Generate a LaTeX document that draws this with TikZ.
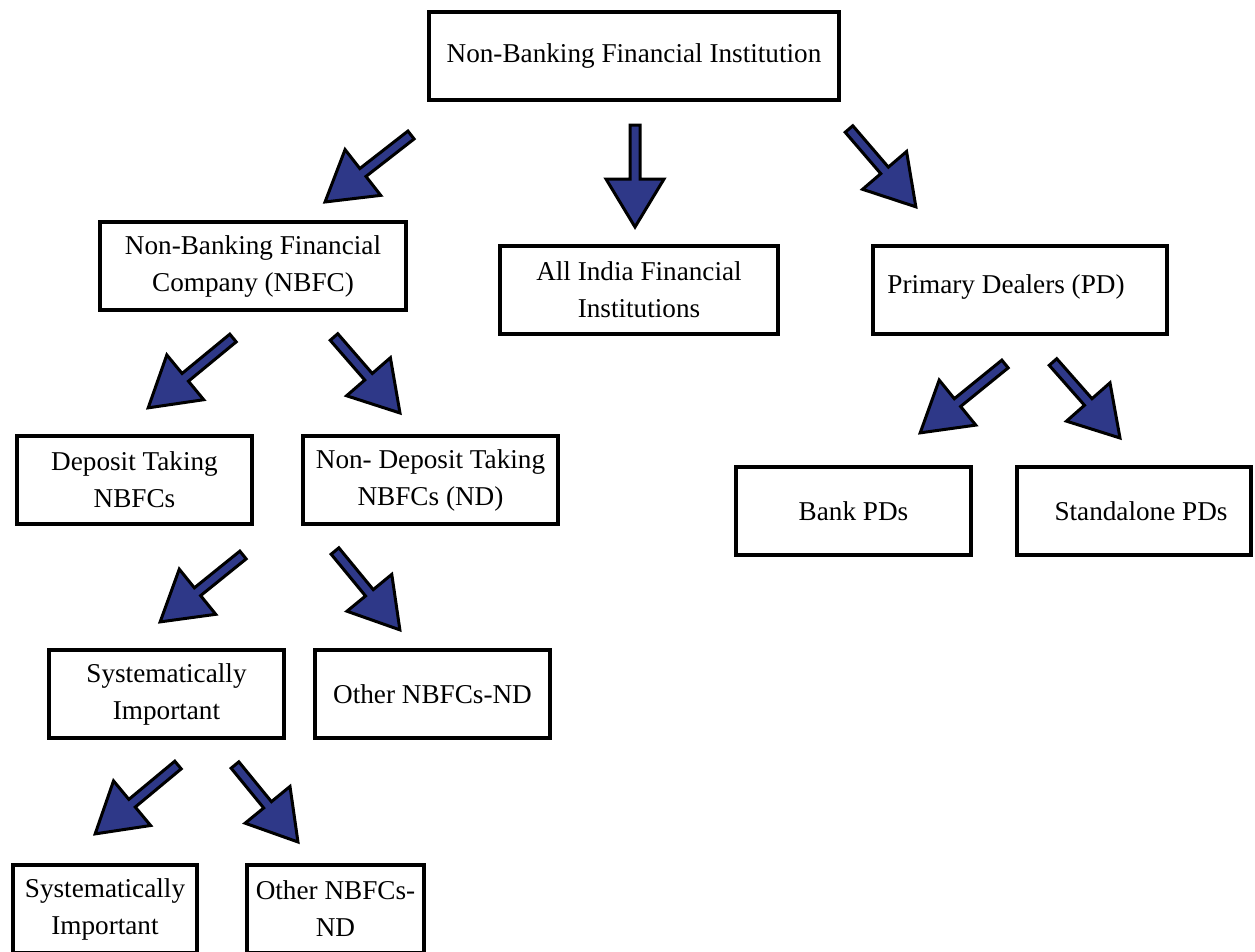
\documentclass[tikz,border=0pt]{standalone}
\usepackage{fontspec}
\setmainfont{Liberation Serif}
\usepackage{tikz}
\usetikzlibrary{calc}
\definecolor{arrowblue}{RGB}{46,56,136}
\tikzset{
	box/.style 2 args={draw, line width=3pt, inner sep=0pt, align=center,
		minimum width=#1*0.75pt, minimum height=#2*0.75pt,
		font=\fontsize{20.4}{27.75}\selectfont},
	fatarrow/.style={draw=black, line width=2.25pt, fill=arrowblue, line join=miter}
}
\def\blockarrow(#1)(#2){\path let \p1=(#1), \p2=(#2) in \pgfextra{\pgfmathsetmacro\arrang{atan2(\y2-\y1,\x2-\x1)}\pgfmathsetmacro\arrlen{veclen(\x2-\x1,\y2-\y1)}\xdef\arrang{\arrang}\xdef\arrlen{\arrlen}};
	\draw[fatarrow, shift={(#1)}, rotate=\arrang] (0pt,-3.75pt) -- ({\arrlen pt-36pt},-3.75pt) -- ({\arrlen pt-36pt},-21.75pt) -- ({\arrlen pt},0pt) -- ({\arrlen pt-36pt},21.75pt) -- ({\arrlen pt-36pt},3.75pt) -- (0pt,3.75pt) -- cycle;}

\begin{document}
\begin{tikzpicture}[x=0.75pt, y=-0.75pt]
			%%%%% START %%%%%
			
			\clip (0, 0) rectangle (1255, 951);
			
			\node[box={410}{88}] (nbfi) at (634, 56) {Non-Banking Financial Institution};
			
			\node[box={306}{88}] (nbfc) at (253, 266) {Non-Banking Financial\\Company (NBFC)};
			\node[box={278}{88}] (aifi) at (639, 290) {All India Financial\\Institutions};
			\node[box={294}{88}] (pd) at (1020, 290) {\raisebox{9pt}{Primary Dealers (PD)}\hspace*{21pt}};
			
			\node[box={235}{88}] (dep) at (134.5, 480) {Deposit Taking\\NBFCs};
			\node[box={255}{88}] (nondep) at (430.5, 480) {Non- Deposit Taking\\NBFCs (ND)};
			
			\node[box={235}{88}] (bankpd) at (853.5, 511) {Bank PDs};
			\node[box={234}{88}] (standpd) at (1134, 511) {\hspace*{10.5pt}Standalone PDs};
			
			\node[box={235}{88}] (sysimp) at (166.5, 694) {Systematically\\Important};
			\node[box={235}{88}] (otherA) at (432.5, 694) {Other NBFCs-ND};
			
			\node[box={184}{88}] (sysimpB) at (105, 909) {Systematically\\Important};
			\node[box={177}{88}] (otherB) at (335.5, 909) {Other NBFCs-\\ND};
			
			% arrow ends
			\coordinate (t1) at (411, 135);  \coordinate (h1) at (325, 202);
			\coordinate (t2) at (635, 125);  \coordinate (h2) at (635, 227);
			\coordinate (t3) at (849, 129);  \coordinate (h3) at (916, 207);
			\coordinate (t4) at (233, 338);  \coordinate (h4) at (148, 408);
			\coordinate (t5) at (334, 337);  \coordinate (h5) at (400, 413);
			\coordinate (t6) at (243, 555);  \coordinate (h6) at (160, 622);
			\coordinate (t7) at (335, 551);  \coordinate (h7) at (400, 630);
			\coordinate (t8) at (178, 765);  \coordinate (h8) at (95, 834);
			\coordinate (t9) at (235, 765);  \coordinate (h9) at (298, 842);
			\coordinate (t10) at (1005, 364); \coordinate (h10) at (920, 433);
			\coordinate (t11) at (1053, 362); \coordinate (h11) at (1120, 438);
			
			\blockarrow(t1)(h1)
			\blockarrow(t2)(h2)
			\blockarrow(t3)(h3)
			\blockarrow(t4)(h4)
			\blockarrow(t5)(h5)
			\blockarrow(t6)(h6)
			\blockarrow(t7)(h7)
			\blockarrow(t8)(h8)
			\blockarrow(t9)(h9)
			\blockarrow(t10)(h10)
			\blockarrow(t11)(h11)
			
			%%%%% END %%%%%
\end{tikzpicture}
\end{document}
